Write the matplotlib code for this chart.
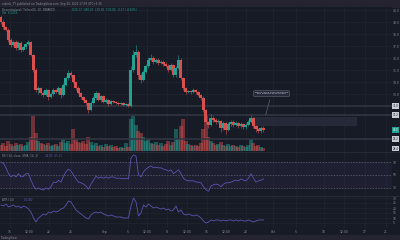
import matplotlib
matplotlib.use("Agg")
import matplotlib.pyplot as plt
from matplotlib.patches import Rectangle
import numpy as np

# ---------------- data ----------------
first_open = 39.4
closes = [39.0, 38.58, 38.33, 37.5, 37.08, 37.33, 36.83, 37.25, 36.67, 36.92,
          37.17, 37.33, 36.25, 35.0, 33.33, 33.5, 33.08, 32.92, 33.33, 32.75,
          33.0, 33.33, 33.17, 33.5, 32.92, 33.75, 34.33, 34.75, 34.58, 34.0,
          33.5, 33.08, 32.75, 32.5, 32.25, 31.67, 32.25, 32.67, 33.08, 32.5,
          32.83, 32.33, 32.5, 32.17, 32.42, 32.33, 32.25, 32.17, 32.25, 32.08,
          32.17, 32.0, 35.0, 36.25, 36.5, 34.58, 34.17, 34.83, 35.33, 35.83,
          36.0, 35.67, 35.83, 35.58, 35.67, 35.5, 35.33, 35.0, 35.42, 34.58,
          35.17, 35.83, 34.33, 33.5, 33.17, 33.25, 33.17, 33.33, 33.17, 32.92,
          32.67, 31.67, 30.67, 30.42, 31.0, 30.83, 30.67, 30.75, 30.17, 30.58,
          30.0, 30.5, 30.67, 30.42, 30.58, 30.33, 30.5, 30.25, 30.42, 30.67,
          31.0, 30.33, 30.08, 29.92, 30.17, 30.0]
wick_up = [0.2, 0.15, 0.1, 0.2, 0.15, 0.2, 0.15, 0.2, 0.15, 0.1,
           0.15, 0.2, 0.1, 0.1, 0.15, 0.2, 0.1, 0.15, 0.2, 0.1,
           0.15, 0.2, 0.1, 0.15, 0.1, 0.2, 0.15, 0.25, 0.15, 0.1,
           0.1, 0.15, 0.1, 0.1, 0.1, 0.1, 0.15, 0.2, 0.15, 0.1,
           0.1, 0.1, 0.15, 0.1, 0.1, 0.1, 0.1, 0.1, 0.1, 0.1,
           0.1, 0.1, 0.3, 0.4, 0.6, 0.2, 0.15, 0.2, 0.2, 0.25,
           0.3, 0.2, 0.2, 0.15, 0.2, 0.15, 0.2, 0.15, 0.2, 0.1,
           0.2, 0.4, 0.15, 0.1, 0.1, 0.1, 0.1, 0.15, 0.1, 0.1,
           0.1, 0.15, 0.1, 0.1, 0.3, 0.2, 0.15, 0.2, 0.1, 0.2,
           0.1, 0.2, 0.2, 0.15, 0.15, 0.1, 0.15, 0.1, 0.15, 0.2,
           0.25, 0.1, 0.1, 0.1, 0.15, 0.15]
wick_dn = [0.15, 0.2, 0.1, 0.15, 0.2, 0.1, 0.2, 0.15, 0.2, 0.1,
           0.15, 0.1, 0.1, 0.15, 0.2, 0.3, 0.15, 0.2, 0.1, 0.25,
           0.1, 0.15, 0.1, 0.2, 0.25, 0.1, 0.1, 0.15, 0.2, 0.1,
           0.15, 0.1, 0.15, 0.1, 0.15, 0.25, 0.1, 0.1, 0.15, 0.1,
           0.15, 0.1, 0.1, 0.15, 0.1, 0.1, 0.1, 0.1, 0.1, 0.1,
           0.1, 0.1, 0.1, 0.15, 0.2, 0.3, 0.25, 0.1, 0.1, 0.15,
           0.1, 0.15, 0.1, 0.15, 0.1, 0.15, 0.1, 0.2, 0.1, 0.2,
           0.15, 0.1, 0.2, 0.2, 0.15, 0.1, 0.15, 0.1, 0.15, 0.1,
           0.15, 0.2, 0.2, 0.25, 0.1, 0.2, 0.15, 0.1, 0.35, 0.15,
           0.3, 0.1, 0.15, 0.2, 0.1, 0.2, 0.15, 0.2, 0.15, 0.1,
           0.1, 0.2, 0.25, 0.2, 0.15, 0.15]
volume = [6, 8, 5, 10, 7, 5, 8, 6, 7, 5, 6, 9, 14, 35, 18, 10, 8, 7, 6, 8,
          5, 6, 7, 5, 9, 12, 8, 10, 7, 22, 12, 9, 8, 10, 7, 14, 9, 6, 8, 5,
          6, 4, 7, 5, 6, 4, 5, 3, 4, 3, 8, 4, 32, 35, 26, 20, 18, 14, 10, 12,
          8, 7, 9, 6, 8, 5, 7, 10, 6, 9, 22, 12, 25, 32, 10, 7, 6, 5, 6, 5,
          8, 22, 35, 14, 10, 8, 6, 7, 9, 6, 5, 7, 5, 6, 5, 4, 6, 5, 4, 6,
          12, 8, 5, 6, 4, 3]
rsi = [70, 68, 61, 52, 47, 50, 47, 52, 47, 48, 52, 52, 42, 33, 28, 30, 28, 27, 30, 28,
       32, 39, 38, 42, 39, 48, 55, 59, 56, 50, 44, 39, 38, 36, 33, 28, 36, 42, 48, 45,
       47, 45, 47, 45, 47, 47, 45, 45, 45, 44, 45, 44, 76, 81, 79, 50, 47, 55, 59, 62,
       64, 61, 62, 61, 61, 59, 58, 56, 58, 52, 55, 58, 52, 45, 42, 41, 41, 41, 39, 39,
       38, 32, 27, 25, 33, 35, 36, 35, 32, 36, 38, 38, 39, 41, 42, 41, 44, 42, 41, 45,
       52, 45, 39, 41, 42, 44]
atr = [23, 22, 24, 21, 22, 23, 21, 22, 20, 22, 21, 19, 16, 10, 6, 10, 12, 14, 13, 16,
       15, 17, 16, 17, 19, 20, 23, 27, 26, 22, 18, 16, 14, 12, 10, 9, 13, 15, 16, 15,
       16, 14, 13, 12, 13, 12, 11, 11, 11, 10, 10, 10, 22, 30, 26, 12, 15, 23, 21, 24,
       22, 20, 21, 20, 19, 20, 18, 19, 17, 18, 22, 16, 18, 14, 13, 14, 13, 12, 13, 12,
       10, 7, 5, 6, 8, 7, 8, 8, 7, 8, 7, 8, 8, 7, 8, 7, 8, 7, 7, 8,
       7, 6, 7, 8, 8, 8]
time_tick_pos = [3.6, 11.2, 19.2, 28, 41.6, 50.8, 58.4, 66.4, 74.4, 82.4, 90, 98,
                 108.8, 118, 129.2, 137.2, 145.6, 154]
time_tick_labels = ["15", "12:00", "22", "26", "Sep", "5", "12:00", "8", "12:00", "15",
                    "12:00", "20", "Oct", "5", "10", "12:00", "17", "21"]
price_ticks = [33, 34, 35, 36, 37, 38, 39, 40]
hlines_main = [32.0, 31.25, 29.25]
zone = (100.8, 142.4, 30.33, 31.08)  # x0, x1, y0, y1

# ---------------- style ----------------
BG = "#171b26"
BAR = "#24232f"
GRID = "#20242f"
UP = "#24a193"
DN = "#d9504f"
TXT = "#8a8d96"
PURPLE = "#5d52b0"

W, H = 400, 240
fig = plt.figure(figsize=(4, 2.4), dpi=100, facecolor=BG)


def box(x0, y0, x1, y1):
    return [x0 / W, 1 - y1 / H, (x1 - x0) / W, (y1 - y0) / H]


opens = [first_open] + closes[:-1]
n = len(closes)
idx = np.arange(n)
o = np.array(opens)
c = np.array(closes)
hi = np.maximum(o, c) + np.array(wick_up)
lo = np.minimum(o, c) - np.array(wick_dn)
up = c >= o
cols = np.where(up, UP, DN)

XL = (-0.4, 156.4)
RX = 392

# top / bottom bars
fig.add_artist(Rectangle((0, 1 - 7 / H), 1, 7 / H, transform=fig.transFigure, color=BAR, zorder=0))
fig.add_artist(Rectangle((0, 0), 1, 5 / H, transform=fig.transFigure, color=BAR, zorder=0))


def style(ax):
    ax.set_facecolor(BG)
    for s in ax.spines.values():
        s.set_visible(False)
    ax.set_xlim(*XL)
    ax.tick_params(length=0, labelsize=2.2, colors=TXT, pad=0.8)
    ax.set_xticks(time_tick_pos)
    ax.grid(True, color=GRID, lw=0.5)
    ax.set_axisbelow(True)


# ---- main pane ----
axv = fig.add_axes(box(0, 7, RX, 151))
axv.set_facecolor(BG)
axv.set_ylim(0, max(volume) * 143 / 35)
axv.set_xlim(*XL)
axv.set_xticks(time_tick_pos)
axv.set_yticks([])
axv.tick_params(length=0, labelbottom=False)
axv.grid(True, axis="x", color=GRID, lw=0.5)
axv.set_axisbelow(True)
for s in axv.spines.values():
    s.set_visible(False)
axv.bar(idx, volume, width=1.6, color=cols, alpha=0.45, lw=0)

ax = fig.add_axes(box(0, 7, RX, 151))
style(ax)
ax.patch.set_alpha(0)
ax.grid(False, axis="x")
ax.set_ylim(28.25, 40.25)
ax.set_xticklabels([])
ax.yaxis.tick_right()
ax.set_yticks(price_ticks)
ax.set_yticklabels([f"{p:.1f}" for p in price_ticks])

for y in hlines_main:
    ax.axhline(y, color="#333644", lw=1.1, zorder=1)
ax.add_patch(Rectangle((zone[0], zone[2]), zone[1] - zone[0], zone[3] - zone[2],
                       color="#262938", zorder=1, lw=0))
ax.vlines(idx, lo, hi, colors=cols, lw=0.4, zorder=3)
ax.bar(idx, np.maximum(np.abs(c - o), 0.04), bottom=np.minimum(o, c), width=1.2,
       color=cols, lw=0, zorder=4)

ax.annotate("Bears could push below the\nkey support zone at $30", xy=(105.6, 31.05),
            xytext=(108.2, 33.05), fontsize=1.7, color="#d1d4dc", ha="center", va="center",
            bbox=dict(boxstyle="round,pad=0.6", fc="#272a38", ec="#555866", lw=0.5),
            arrowprops=dict(arrowstyle="-", color="#555866", lw=0.6), zorder=6)

lbls = [(32.0, "#c9ccd4", "#131722"), (31.25, "#c9ccd4", "#131722"),
        (closes[-1], UP, "white"), (29.25, "#c9ccd4", "#131722"), (28.45, "#c9ccd4", "#131722")]
for yv, fc, tc in lbls:
    ax.text(1.002, yv, f"{yv:.1f}", transform=ax.get_yaxis_transform(), fontsize=1.9,
            color=tc, va="center", ha="left",
            bbox=dict(boxstyle="square,pad=0.2", fc=fc, ec="none"), clip_on=False)

fig.text(2 / W, 1 - 3.5 / H, "rakesh_TY published on TradingView.com, Sep 30, 2022 17:59 UTC+5:30",
         fontsize=2.0, color=TXT, va="center")
fig.text(2 / W, 1 - 10 / H, "Decentraland / TetherUS, 1D, BINANCE", fontsize=2.0,
         color=TXT, va="center")
fig.text(72 / W, 1 - 10 / H, "O30.17  H30.25  L29.85  C30.00  -0.17 (-0.56%)",
         fontsize=2.0, color=UP, va="center")
fig.text(2 / W, 1 - 13.5 / H, "Vol  4.521K", fontsize=2.0, color=UP, va="center")

# ---- RSI pane ----
axr = fig.add_axes(box(0, 152, RX, 195))
style(axr)
axr.set_xticklabels([])
axr.set_ylim(19.2, 85.4)
axr.yaxis.tick_right()
axr.set_yticks([30, 50, 70])
axr.set_yticklabels(["30", "50", "70"])
axr.axhspan(30, 70, color="#7e57c2", alpha=0.07, lw=0)
for yv in (30, 50, 70):
    axr.axhline(yv, color="#787b86", lw=0.5, ls=(0, (2, 2)), alpha=0.7)
axr.plot(idx, rsi, color=PURPLE, lw=0.6)
axr.text(0.004, 0.95, "RSI (14, close, SMA, 14, 2)", transform=axr.transAxes, fontsize=2.0,
         color=TXT, va="top")
axr.text(0.115, 0.95, "44.05  45.31", transform=axr.transAxes, fontsize=2.0,
         color=PURPLE, va="top")

# ---- lower pane ----
axl = fig.add_axes(box(0, 196, RX, 228))
style(axl)
axl.set_ylim(0, 32)
axl.yaxis.tick_right()
axl.set_yticks([5, 10, 15, 20, 25, 30])
axl.set_xticklabels(time_tick_labels)
axl.tick_params(axis="x", pad=1.5)
axl.plot(idx, atr, color=PURPLE, lw=0.6)
axl.text(0.004, 0.95, "ATR (14)", transform=axl.transAxes, fontsize=2.0, color=TXT, va="top")
axl.text(0.06, 0.95, "0.1180", transform=axl.transAxes, fontsize=2.0, color=PURPLE, va="top")

for yy in (151.5, 195.5):
    fig.add_artist(plt.Line2D([0, 1], [1 - yy / H] * 2, color="#2a2e39", lw=0.6))

fig.text(1 / W, 2.5 / H, "TradingView", fontsize=2.0, color=TXT, va="center")

fig.savefig("out.png", dpi=100, facecolor=BG)
